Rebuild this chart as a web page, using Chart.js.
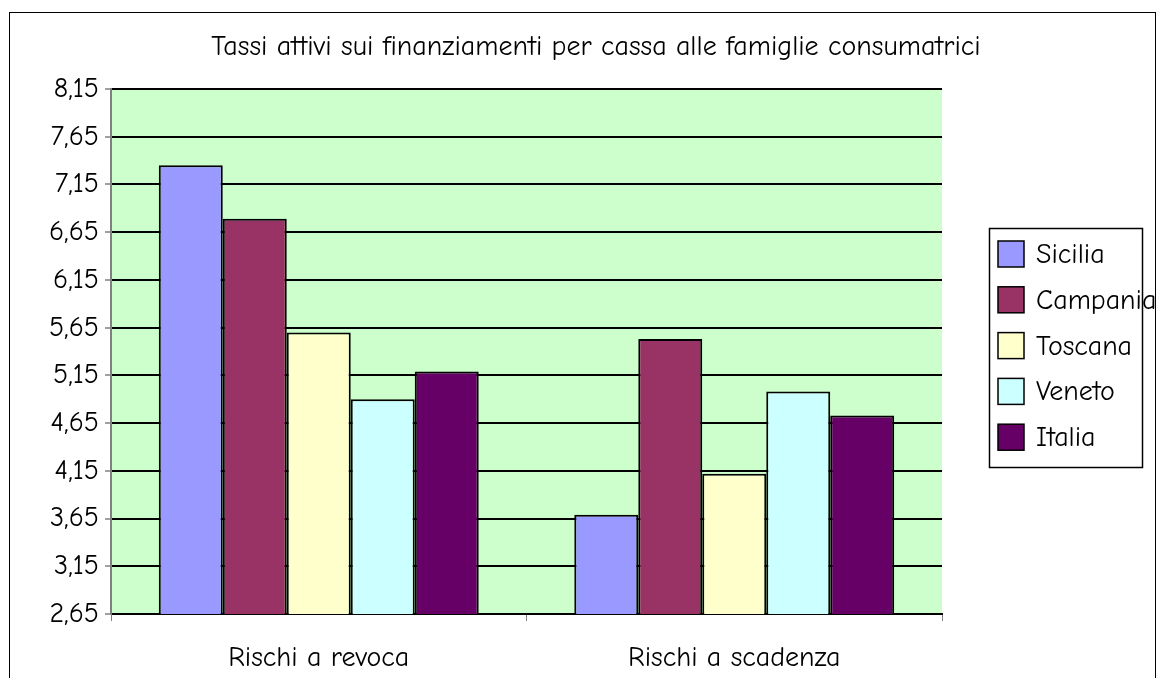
<!DOCTYPE html>
<html>
<head>
<meta charset="utf-8">
<script src="https://cdn.jsdelivr.net/npm/chart.js@4.4.0/dist/chart.umd.min.js"></script>
<style>
  html, body { margin: 0; padding: 0; background: #fff; }
  #wrap { width: 1164px; height: 678px; }
</style>
</head>
<body>
<div id="wrap"><canvas id="myChartbar" width="1164" height="678"></canvas></div>
<script>
// dati
const categorie = ['Rischi a revoca', 'Rischi a scadenza'];
const regioni = ['Sicilia', 'Campania', 'Toscana', 'Veneto', 'Italia'];
const sicilia = [7.35, 3.69];
const campania = [6.79, 5.53];
const toscana = [5.60, 4.12];
const veneto = [4.90, 4.98];
const italia = [5.19, 4.73];
const yTicks = [2.65, 3.15, 3.65, 4.15, 4.65, 5.15, 5.65, 6.15, 6.65, 7.15, 7.65, 8.15];
const titolo = 'Tassi attivi sui finanziamenti per cassa alle famiglie consumatrici';

const colori = ['#9999FF', '#993366', '#FFFFCC', '#CCFFFF', '#660066'];
const FONT = '"Comic Sans MS", "Comic Neue", "DejaVu Sans", sans-serif';
const FS = 28;

// cornice, sfondo area, titolo e legenda
const decorPlugin = {
  id: 'decor',
  beforeDraw(chart) {
    const ctx = chart.ctx;
    const a = chart.chartArea;
    ctx.save();
    ctx.fillStyle = '#fff';
    ctx.fillRect(0, 0, chart.width, chart.height);
    ctx.strokeStyle = '#000';
    ctx.lineWidth = 1;
    ctx.strokeRect(9.5, 12.5, 1146, 700);
    ctx.fillStyle = '#CCFFCC';
    ctx.fillRect(a.left, a.top, a.right - a.left, a.bottom - a.top);
    ctx.restore();
  },
  afterDraw(chart) {
    const ctx = chart.ctx;
    ctx.save();
    ctx.fillStyle = '#000';
    ctx.font = FS + 'px ' + FONT;
    ctx.textAlign = 'center';
    ctx.textBaseline = 'middle';
    ctx.fillText(titolo, 596, 47);

    // legenda
    ctx.strokeStyle = '#000';
    ctx.lineWidth = 1.5;
    ctx.strokeRect(989.5, 228.5, 153, 239);
    ctx.textAlign = 'left';
    chart.data.datasets.forEach((ds, i) => {
      const cy = 254 + i * 45.8;
      ctx.fillStyle = ds.backgroundColor;
      ctx.fillRect(998, cy - 13, 26, 26);
      ctx.lineWidth = 1.5;
      ctx.strokeRect(998, cy - 13, 26, 26);
      ctx.fillStyle = '#000';
      ctx.fillText(ds.label, 1036, cy + 1);
    });
    ctx.restore();
  }
};

const ctx = document.getElementById('myChartbar').getContext('2d');
const serie = [sicilia, campania, toscana, veneto, italia];

new Chart(ctx, {
  type: 'bar',
  data: {
    labels: categorie,
    datasets: regioni.map((r, i) => ({
      label: r,
      data: serie[i],
      backgroundColor: colori[i],
      borderColor: '#000',
      borderWidth: 2,
      borderSkipped: false,
      barPercentage: 1,
      categoryPercentage: 0.77
    }))
  },
  options: {
    responsive: false,
    animation: false,
    layout: { padding: { top: 89, right: 222, left: 0, bottom: 0 } },
    plugins: {
      legend: { display: false },
      title: { display: false },
      tooltip: { enabled: false }
    },
    scales: {
      x: {
        afterFit: s => { s.height = 64; },
        grid: { offset: true, drawOnChartArea: false, drawTicks: true, tickLength: 7, color: '#808080', lineWidth: 1 },
        border: { color: '#000', width: 2 },
        ticks: { color: '#000', font: { family: FONT, size: FS }, padding: 20 }
      },
      y: {
        min: 2.65,
        max: 8.15,
        afterFit: s => { s.width = 111; },
        afterBuildTicks: s => { s.ticks = yTicks.map(v => ({ value: v })); },
        grid: { color: '#000', lineWidth: 2, drawTicks: true, tickLength: 6, tickColor: '#808080', tickWidth: 1.5 },
        border: { color: '#808080', width: 2 },
        ticks: {
          color: '#000',
          font: { family: FONT, size: FS },
          padding: 6,
          callback: v => Number(v).toFixed(2).replace('.', ',')
        }
      }
    }
  },
  plugins: [decorPlugin]
});
</script>
</body>
</html>
